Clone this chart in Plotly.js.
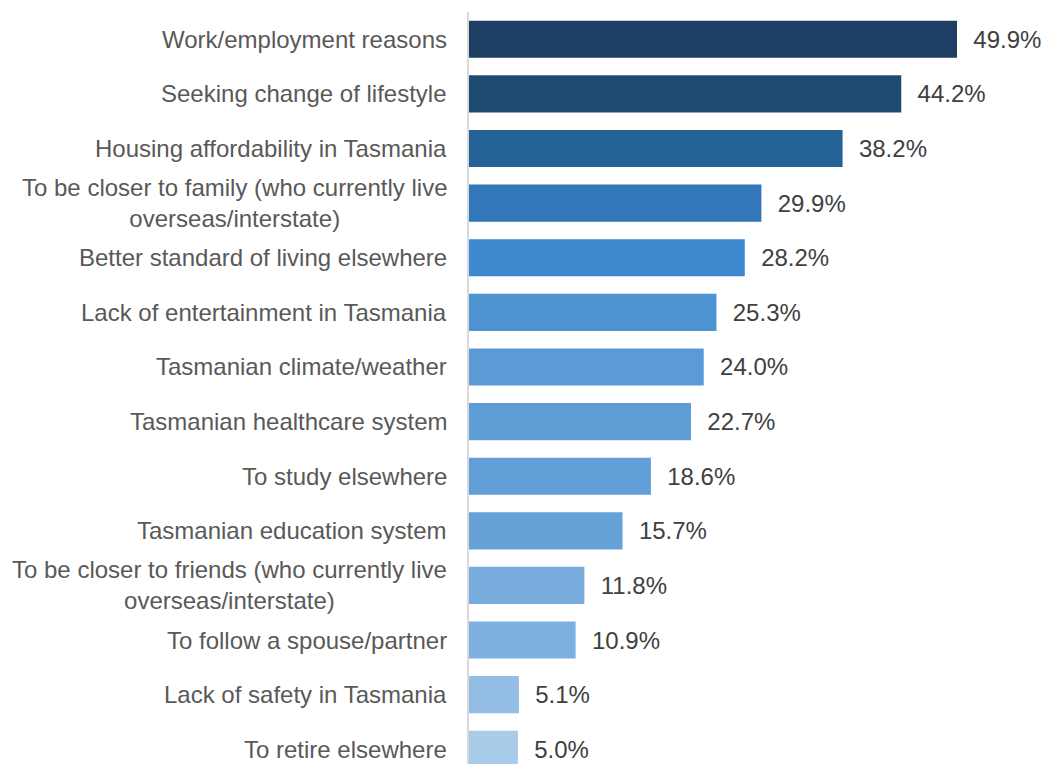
<!DOCTYPE html>
<html>
<head>
<meta charset="utf-8">
<script src="https://cdn.plot.ly/plotly-3.0.1.min.js"></script>
<style>html,body{margin:0;padding:0;background:#fff;}#chart{width:1046px;height:764px;}</style>
</head>
<body>
<div id="chart"></div>
<script>
const categories = [
  "Work/employment reasons",
  "Seeking change of lifestyle",
  "Housing affordability in Tasmania",
  "To be closer to family (who currently live<br>overseas/interstate)",
  "Better standard of living elsewhere",
  "Lack of entertainment in Tasmania",
  "Tasmanian climate/weather",
  "Tasmanian healthcare system",
  "To study elsewhere",
  "Tasmanian education system",
  "To be closer to friends (who currently live<br>overseas/interstate)",
  "To follow a spouse/partner",
  "Lack of safety in Tasmania",
  "To retire elsewhere"
];
const values = [49.9, 44.2, 38.2, 29.9, 28.2, 25.3, 24.0, 22.7, 18.6, 15.7, 11.8, 10.9, 5.1, 5.0];
const barColors = ["#1C3F63","#1F4B73","#256295","#3177BA","#3D88CE","#4E94D2","#5A9AD5",
                   "#5E9DD6","#629FD6","#66A2D7","#78ACDD","#7EB0DF","#93BDE3","#A9CBEA"];

const FONT = "Liberation Sans, Arial, sans-serif";
const ids = categories.map((c, i) => i);

const trace = {
  type: "bar",
  orientation: "h",
  y: ids,
  x: values,
  marker: {color: barColors},
  text: values.map(v => "\u00A0\u00A0" + v.toFixed(1) + "%"),
  textposition: "outside",
  textfont: {family: FONT, size: 24, color: "#404040"},
  constraintext: "none",
  cliponaxis: false,
  hoverinfo: "none"
};

const annotations = categories.map((c, i) => ({
  xref: "paper", yref: "y",
  x: 0, y: i,
  xanchor: "right", yanchor: "middle",
  xshift: -20,
  align: "center",
  text: c,
  showarrow: false,
  font: {family: FONT, size: 24, color: "#595959"}
}));

const layout = {
  width: 1046, height: 764,
  margin: {l: 469, r: 0, t: 12, b: 0},
  paper_bgcolor: "#ffffff", plot_bgcolor: "#ffffff",
  bargap: 0.32,
  showlegend: false,
  xaxis: {range: [0, 59], showgrid: false, zeroline: false, showticklabels: false, showline: false, fixedrange: true},
  yaxis: {range: [13.27, -0.5], showgrid: false, zeroline: false, showticklabels: false,
          showline: true, linecolor: "#D9D9D9", linewidth: 2, ticks: "", fixedrange: true},
  annotations: annotations
};

Plotly.newPlot("chart", [trace], layout, {displayModeBar: false, staticPlot: true});
</script>
</body>
</html>
